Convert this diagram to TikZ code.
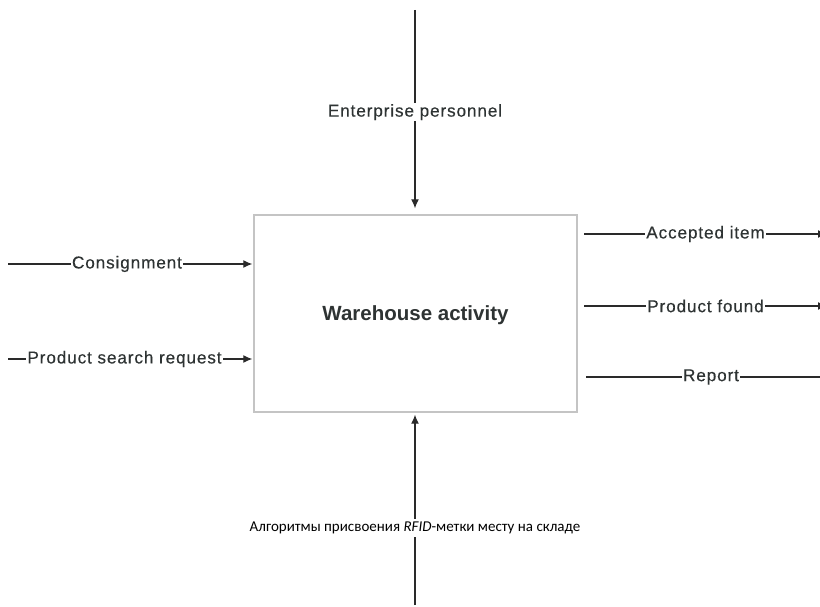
\documentclass[tikz,border=0pt]{standalone}
\usepackage{fontspec}
\setmainfont{Liberation Sans}
\newfontfamily\lblfont{Liberation Sans}[LetterSpace=5,FakeBold=0.3]
\newfontfamily\cyrfont{Carlito}
\usetikzlibrary{arrows.meta}
\definecolor{txtgray}{HTML}{2E3333}
\definecolor{boxgray}{HTML}{C4C4C4}
\definecolor{linegray}{HTML}{2A2A2A}

\begin{document}
\begin{tikzpicture}[x=1pt,y=-1pt]
	\tikzstyle{func}=[draw=boxgray,line width=1.4pt,minimum width=323pt,minimum height=197pt,inner sep=0pt,text depth=0pt,font=\fontsize{20.5}{24}\selectfont\bfseries,text=txtgray]
	\tikzstyle{arc}=[fill=white,inner sep=1pt,font=\lblfont\fontsize{17.2}{20}\selectfont,text=txtgray]
	\tikzstyle{mech}=[fill=white,inner sep=3pt,font=\cyrfont\fontsize{15}{18}\selectfont,text=black]
	\tikzstyle{flow}=[draw=linegray,line width=1.2pt,-{Latex[length=9pt,width=8pt]}]
	\useasboundingbox (0,0) rectangle (820,607);

	\node[func] (A0) at (415.5,313.5) {Warehouse activity};

	% control, mechanism
	\coordinate (C1) at (415,10);
	\coordinate (M1) at (415,605);
	% inputs
	\coordinate (I1) at (8,264);
	\coordinate (I2) at (8,359);
	% outputs
	\coordinate (O1) at (584,234);
	\coordinate (O2) at (584,306);
	\coordinate (O3) at (586,377);
	\coordinate (E1) at (827,234);
	\coordinate (E2) at (827,306);
	\coordinate (E3) at (836,377);

	\draw[flow,shorten >=6pt] (C1) -- node[arc] {Enterprise personnel} (A0.north -| C1);
	\draw[flow,shorten >=2pt] (M1) -- node[mech,pos=0.4] {Алгоритмы присвоения \textit{RFID}-метки месту на складе} (A0.south -| M1);

	\draw[flow,shorten >=1pt] (I1) -- node[arc,pos=0.485] {Consignment} (A0.west |- I1);
	\draw[flow,shorten >=1pt] (I2) -- node[arc,pos=0.475] {Product search request} (A0.west |- I2);

	\draw[flow] (O1) -- node[arc] {Accepted item} (E1);
	\draw[flow] (O2) -- node[arc] {Product found} (E2);
	\draw[flow] (O3) -- node[arc] {Report} (E3);
\end{tikzpicture}
\end{document}
